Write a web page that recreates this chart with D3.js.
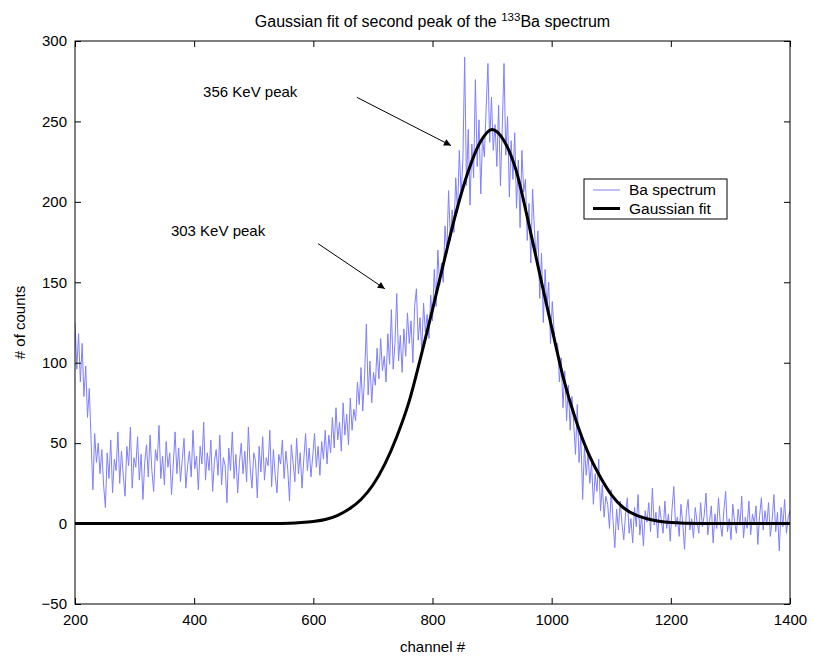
<!DOCTYPE html>
<html>
<head>
<meta charset="utf-8">
<script src="https://cdn.jsdelivr.net/npm/d3@7"></script>
<style>
  html, body { margin: 0; padding: 0; background: #fff; }
  svg { display: block; font-family: "Liberation Sans", Arial, Helvetica, sans-serif; }
</style>
</head>
<body>
<svg id="chart" width="813" height="661"></svg>
<script>
// ---------- DATA ----------
const specStart = 200;      // first channel
const specStep = 3;         // channel spacing of the samples
const spectrumCounts = [
  125,96,118,88,112,79,98,66,84,52,21,56,38,50,31,46,24,
  10,44,28,52,19,40,33,57,25,45,
  30,17,48,36,60,22,41,35,54,27,
  43,15,38,49,29,55,33,20,46,39,
  61,28,42,24,51,35,44,18,37,57,
  31,47,26,40,53,22,36,45,29,58,
  34,42,21,48,37,63,27,44,33,52,
  20,39,46,30,55,24,41,36,13,47,
  33,57,28,43,19,38,50,31,45,26,
  60,35,22,44,39,16,48,32,54,27,
  41,36,58,23,46,30,19,43,37,52,
  28,45,34,14,49,38,26,53,31,44,
  22,40,56,33,47,29,42,
  56,35,48,30,51,40,58,37,55,44,66,47,72,52,63,45,75,55,68,49,78,58,71,
  64,88,74,97,70,92,124,80,101,75,94,86,109,90,115,95,104,88,118,99,133,96,112,143,101,117,94,
  121,104,131,112,126,100,135,146,114,128,107,137,119,130,115,
  142,126,158,135,170,148,
  162,150,185,168,207,176,195,
  181,215,193,232,205,226,
  290,210,245,198,236,215,276,222,251,205,240,
  228,258,286,237,265,232,248,222,
  260,210,245,286,229,253,203,
  238,214,243,196,226,184,232,206,
  214,176,199,162,208,183,165,
  182,140,168,125,158,134,150,112,138,120,108,
  112,88,103,72,95,64,86,58,79,
  62,43,74,38,55,15,48,30,44,
  25,38,12,31,20,40,8,24,4,17,
  12,-3,21,2,-15,9,-4,14,0,-10,
  6,16,-6,3,-12,10,-2,18,-7,5,
  -14,8,1,13,-5,22,-1,7,-9,11,
  2,-6,14,-3,6,-11,9,23,-2,4,
  -8,12,0,-16,7,15,-4,3,-9,10,
  1,-6,13,-2,5,19,-7,2,11,-12,
  6,-3,16,0,-8,8,20,-5,3,-10,
  12,1,-6,9,-1,17,-9,4,-3,14,
  -7,6,0,11,-13,5,16,-4,8,-1,
  13,-8,2,18,-5,7,-17,10,-2,15,
  -6,4,8
];
const spectrumChannels = spectrumCounts.map((_, i) => specStart + i * specStep);

// Gaussian fit curve
const fitChannels = [200,300,400,500,540,560,580,600,620,640,660,680,700,720,740,760,780,800,820,840,860,880,900,920,940,960,980,1000,1020,1040,1060,1080,1100,1120,1140,1160,1180,1200,1250,1300,1400];
const fitCounts   = [0,0,0,0,0.1,0.2,0.6,1.3,2.5,5,9,15,24,37,54,75,103,133,164,194,219,237,245,238,220,189,155,122,90,65,45,30,18,10,5.5,3,1.5,0.7,0.1,0,0];

const xTicks = [200,400,600,800,1000,1200,1400];
const yTicks = [-50,0,50,100,150,200,250,300];

const seriesNames = ["Ba spectrum", "Gaussian fit"];
const seriesColors = ["#7f7fff", "#000000"];

// annotations: label, text position, arrow start and tip, in data units
const annLabels = ["356 KeV peak", "303 KeV peak"];
const annTextX = [415, 361];
const annTextY = [265, 179];
const annFromX = [673, 608];
const annFromY = [265, 174];
const annToX = [831, 720];
const annToY = [235, 146];

// ---------- LAYOUT ----------
const svg = d3.select("#chart");
const L = 75, R = 790, T = 41, B = 604;
const x = d3.scaleLinear().domain([200, 1400]).range([L, R]);
const y = d3.scaleLinear().domain([-50, 300]).range([B, T]);
const fontSize = 15;

svg.append("defs").append("clipPath").attr("id", "clip")
  .append("rect").attr("x", L).attr("y", T).attr("width", R - L).attr("height", B - T);

// spectrum
const line = d3.line().x(d => x(d[0])).y(d => y(d[1]));
svg.append("path")
  .datum(spectrumChannels.map((c, i) => [c, spectrumCounts[i]]))
  .attr("clip-path", "url(#clip)")
  .attr("fill", "none")
  .attr("stroke", seriesColors[0])
  .attr("stroke-width", 1)
  .attr("stroke-linejoin", "round")
  .attr("d", line);

// fit
svg.append("path")
  .datum(fitChannels.map((c, i) => [c, fitCounts[i]]))
  .attr("clip-path", "url(#clip)")
  .attr("fill", "none")
  .attr("stroke", seriesColors[1])
  .attr("stroke-width", 3)
  .attr("stroke-linejoin", "round")
  .attr("d", line.curve(d3.curveMonotoneX));

// axes (MATLAB style: inner ticks on all sides, box)
const tickLen = 6;
const axB = d3.axisBottom(x).tickValues(xTicks).tickSizeInner(-tickLen).tickSizeOuter(0).tickPadding(10).tickFormat(d3.format("d"));
const axT = d3.axisTop(x).tickValues(xTicks).tickSizeInner(-tickLen).tickSizeOuter(0).tickFormat("");
const fmtY = d => (d < 0 ? "\u2212" + Math.abs(d) : String(d));
const axL = d3.axisLeft(y).tickValues(yTicks).tickSizeInner(-tickLen).tickSizeOuter(0).tickPadding(8).tickFormat(fmtY);
const axR = d3.axisRight(y).tickValues(yTicks).tickSizeInner(-tickLen).tickSizeOuter(0).tickFormat("");

function style(g) {
  g.select(".domain").remove();
  g.selectAll("line").attr("stroke", "#000").attr("stroke-width", 1);
  g.selectAll("text").attr("font-size", fontSize).attr("fill", "#000").attr("font-family", "Liberation Sans, Arial, sans-serif");
}
svg.append("g").attr("transform", `translate(0,${B})`).call(axB).call(style);
svg.append("g").attr("transform", `translate(0,${T})`).call(axT).call(style);
svg.append("g").attr("transform", `translate(${L},0)`).call(axL).call(style);
svg.append("g").attr("transform", `translate(${R},0)`).call(axR).call(style);

svg.append("rect").attr("x", L).attr("y", T).attr("width", R - L).attr("height", B - T)
  .attr("fill", "none").attr("stroke", "#000").attr("stroke-width", 1);

// title
const title = svg.append("text").attr("x", (L + R) / 2).attr("y", 27)
  .attr("text-anchor", "middle").attr("font-size", 16).attr("fill", "#000");
title.append("tspan").text("Gaussian fit of second peak of the ");
title.append("tspan").attr("font-size", 11.5).attr("dy", -6).text("133");
title.append("tspan").attr("dy", 6).text("Ba spectrum");

// axis labels
svg.append("text").attr("x", (L + R) / 2).attr("y", 652).attr("text-anchor", "middle")
  .attr("font-size", fontSize).text("channel #");
svg.append("text").attr("transform", `translate(25,${(T + B) / 2}) rotate(-90)`)
  .attr("text-anchor", "middle").attr("font-size", fontSize).text("# of counts");

// annotations
svg.append("defs").append("marker").attr("id", "arrow")
  .attr("viewBox", "0 0 10 10").attr("refX", 10).attr("refY", 5)
  .attr("markerWidth", 11).attr("markerHeight", 7).attr("markerUnits", "userSpaceOnUse")
  .attr("orient", "auto")
  .append("path").attr("d", "M0,0 L10,5 L0,10 z").attr("fill", "#000");
annLabels.forEach((lab, i) => {
  svg.append("text").attr("x", x(annTextX[i])).attr("y", y(annTextY[i]))
    .attr("font-size", fontSize).attr("fill", "#000").text(lab);
  svg.append("line")
    .attr("x1", x(annFromX[i])).attr("y1", y(annFromY[i]))
    .attr("x2", x(annToX[i])).attr("y2", y(annToY[i]))
    .attr("stroke", "#000").attr("stroke-width", 1)
    .attr("marker-end", "url(#arrow)");
});

// legend
const lg = svg.append("g").attr("transform", "translate(584,179)");
lg.append("rect").attr("x", 0).attr("y", 0).attr("width", 143).attr("height", 40)
  .attr("fill", "#fff").attr("stroke", "#000").attr("stroke-width", 1);
seriesNames.forEach((name, i) => {
  const yy = 11 + i * 18.5;
  lg.append("line").attr("x1", 9).attr("x2", 36).attr("y1", yy).attr("y2", yy)
    .attr("stroke", seriesColors[i]).attr("stroke-width", i === 0 ? 1 : 3);
  lg.append("text").attr("x", 45).attr("y", yy).attr("dy", "0.35em")
    .attr("font-size", 15.5).attr("fill", "#000").text(name);
});
</script>
</body>
</html>
